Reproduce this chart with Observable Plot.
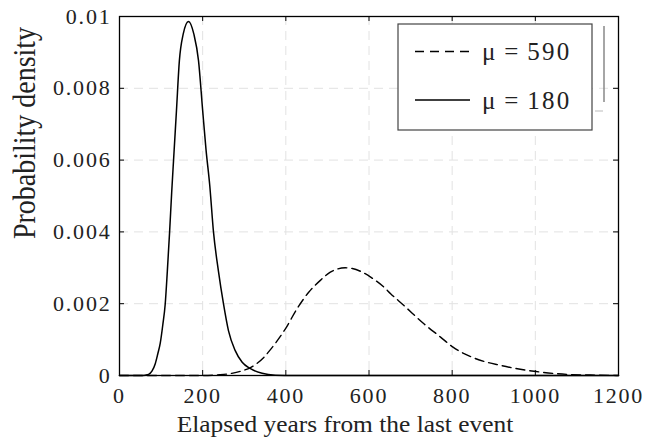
<!DOCTYPE html>
<html>
<head>
<meta charset="utf-8">
<script src="https://cdn.jsdelivr.net/npm/d3@7"></script>
<script src="https://cdn.jsdelivr.net/npm/@observablehq/plot@0.6"></script>
<style>
  html, body { margin: 0; padding: 0; background: #fff; }
  #chart { position: relative; width: 647px; height: 441px; }
  #chart svg, #chart svg text { font-family: "Liberation Serif", "DejaVu Serif", serif; }
  #chart svg text { letter-spacing: 1.8px; }
  #chart svg text.ylab { letter-spacing: 0; }
  #chart svg text.xlab { letter-spacing: 0; }
</style>
</head>
<body>
<div id="chart"></div>
<script>
// ---- data ----
const solidX = [0, 50, 62, 70, 78, 86, 92, 98, 104, 110, 115, 120.5, 125.5, 130, 137, 144, 153, 166, 179, 190, 200, 208, 217, 226, 238, 250, 262, 278, 295, 315, 343, 375, 420, 600, 900, 1200];
const solidY = [0, 0, 0.00001, 0.00003, 0.00012, 0.00033, 0.0006, 0.0009, 0.0014, 0.002, 0.0029, 0.004, 0.0051, 0.006, 0.00738, 0.00877, 0.0095, 0.00986, 0.0095, 0.00877, 0.00738, 0.0063, 0.0053, 0.004, 0.0029, 0.002, 0.00125, 0.0007, 0.00037, 0.00019, 0.00006, 0.00001, 0, 0, 0, 0];

const dashX = [0, 200, 240, 270, 295, 315, 330, 347, 360, 375, 399, 427, 455, 483, 507, 525, 543, 560, 580, 604, 636, 652, 684, 732, 772, 802, 852, 917, 1002, 1077, 1150, 1200];
const dashY = [0, 0, 0.00002, 0.00006, 0.00013, 0.00022, 0.00033, 0.0005, 0.00068, 0.0009, 0.0013, 0.00186, 0.00232, 0.00265, 0.00288, 0.00297, 0.003, 0.00298, 0.0029, 0.00274, 0.00246, 0.00228, 0.00195, 0.00144, 0.00107, 0.00079, 0.00049, 0.00028, 0.00011, 0.00003, 0.00001, 0];

const xTicks = [0, 200, 400, 600, 800, 1000, 1200];
const yTicks = [0, 0.002, 0.004, 0.006, 0.008, 0.01];
const legendLabels = ["\u03bc = 590", "\u03bc = 180"];
const xLabel = "Elapsed years from the last event";
const yLabel = "Probability density";

// ---- build ----
const solid = solidX.map((x, i) => ({x, y: solidY[i]}));
const dashed = dashX.map((x, i) => ({x, y: dashY[i]}));

const W = 647, H = 441, mL = 119, mR = 29, mT = 16, mB = 66;
const fw = W - mL - mR, fh = H - mT - mB, tk = 5;
const gridStyle = {stroke: "#e2e2e2", strokeOpacity: 1, strokeDasharray: "9,6", strokeWidth: 1};

const plot = Plot.plot({
  width: W, height: H,
  marginLeft: mL, marginRight: mR, marginTop: mT, marginBottom: mB,
  x: {domain: [0, 1200]},
  y: {domain: [0, 0.01]},
  style: {fontSize: "22px", color: "#222", background: "white"},
  marks: [
    Plot.gridX(xTicks.slice(1, -1), gridStyle),
    Plot.gridY(yTicks.slice(1, -1), gridStyle),
    Plot.line(dashed, {x: "x", y: "y", stroke: "black", strokeWidth: 1.4, strokeDasharray: "9,5", curve: "monotone-x"}),
    Plot.line(solid, {x: "x", y: "y", stroke: "black", strokeWidth: 1.5, curve: "monotone-x"}),
    Plot.frame({stroke: "black", strokeWidth: 1.3}),
    Plot.tickX(xTicks, {x: d => d, insetTop: fh - tk, stroke: "black"}),
    Plot.tickX(xTicks, {x: d => d, insetBottom: fh - tk, stroke: "black"}),
    Plot.tickY(yTicks, {y: d => d, insetRight: fw - tk, stroke: "black"}),
    Plot.tickY(yTicks, {y: d => d, insetLeft: fw - tk, stroke: "black"}),
    Plot.axisX(xTicks, {tickSize: 0, tickPadding: 12, label: null, tickFormat: d => String(d), fill: "#222"}),
    Plot.axisY(yTicks, {tickSize: 0, tickPadding: 8, label: null, tickFormat: d => String(d), fill: "#222"})
  ]
});

document.getElementById("chart").appendChild(plot);

const svg = d3.select(plot);

// axis titles
svg.append("text")
  .attr("class", "xlab")
  .attr("transform", "translate(345,432) scale(1.13,1)")
  .attr("text-anchor", "middle")
  .attr("font-size", 22.5).attr("fill", "#222")
  .text(xLabel);

svg.append("text")
  .attr("class", "ylab")
  .attr("transform", "translate(35,133) rotate(-90) scale(1,1.15)")
  .attr("text-anchor", "middle")
  .attr("font-size", 28).attr("fill", "#222")
  .text(yLabel);

// legend
const lg = svg.append("g");
lg.append("rect").attr("x", 398).attr("y", 24).attr("width", 194).attr("height", 106)
  .attr("fill", "white").attr("stroke", "#444").attr("stroke-width", 1.2);
const rows = [{y: 51.5, dash: "9,6"}, {y: 100, dash: null}];
rows.forEach((r, i) => {
  const l = lg.append("line").attr("x1", 415).attr("x2", 470).attr("y1", r.y).attr("y2", r.y)
    .attr("stroke", "black").attr("stroke-width", 1.5);
  if (r.dash) l.attr("stroke-dasharray", r.dash);
  lg.append("text").attr("x", 482).attr("y", r.y + 8.5)
    .attr("text-anchor", "start")
    .attr("font-size", 25).attr("fill", "#222")
    .style("letter-spacing", "2.3px").style("word-spacing", "-2px")
    .text(legendLabels[i]);
});
lg.append("line").attr("x1", 604).attr("x2", 604).attr("y1", 26).attr("y2", 102)
  .attr("stroke", "#888").attr("stroke-width", 1.5);
lg.append("line").attr("x1", 595).attr("x2", 603).attr("y1", 111).attr("y2", 111)
  .attr("stroke", "#bbb").attr("stroke-width", 1);
</script>
</body>
</html>
